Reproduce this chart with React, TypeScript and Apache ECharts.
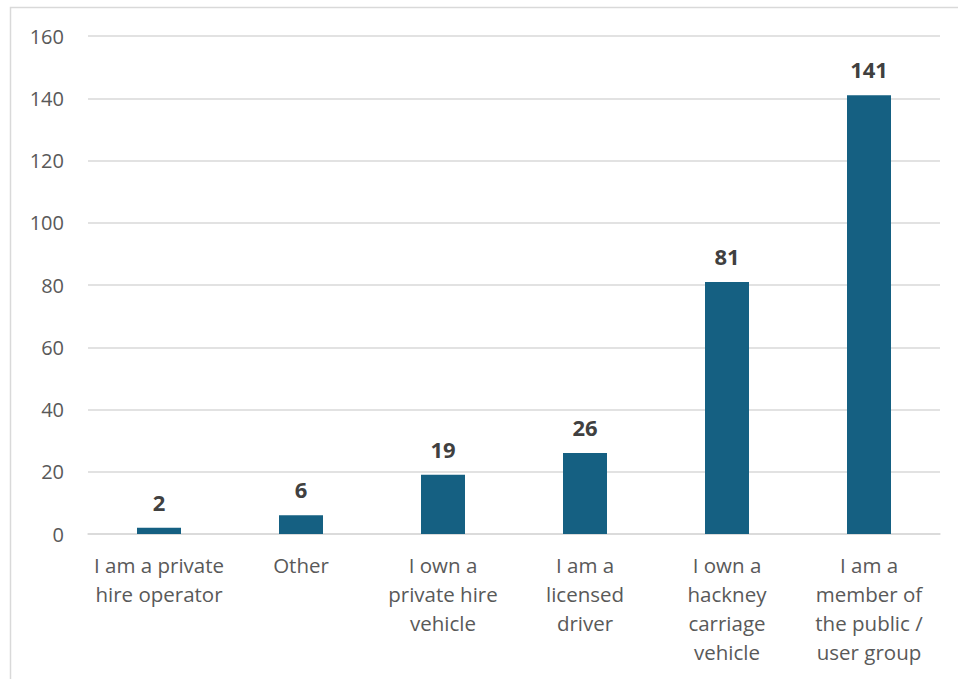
import React, { useEffect, useRef } from "react";
import * as echarts from "echarts";

const categories = [
  "I am a private\nhire operator",
  "Other",
  "I own a\nprivate hire\nvehicle",
  "I am a\nlicensed\ndriver",
  "I own a\nhackney\ncarriage\nvehicle",
  "I am a\nmember of\nthe public /\nuser group",
];
const values = [2, 6, 19, 26, 81, 141];

export default function App() {
  const ref = useRef<HTMLDivElement>(null);
  useEffect(() => {
    const chart = echarts.init(ref.current!, null, { renderer: "svg" });
    chart.setOption({
      animation: false,
      backgroundColor: "#ffffff",
      graphic: [
        {
          type: "rect",
          shape: { x: 10.5, y: 7.5, width: 1000, height: 1000 },
          style: { fill: "none", stroke: "#d9d9d9", lineWidth: 1.5 },
          silent: true,
          z: -1,
        },
      ],
      grid: { left: 88, right: 18, top: 36, bottom: 145, containLabel: false },
      xAxis: {
        type: "category",
        data: categories,
        axisLine: { show: true, lineStyle: { color: "#d9d9d9", width: 1.5 } },
        axisTick: { show: false },
        axisLabel: {
          interval: 0,
          color: "#595959",
          fontSize: 20.5,
          fontFamily: "Open Sans",
          lineHeight: 29,
          margin: 16,
          align: "center",
        },
      },
      yAxis: {
        type: "value",
        min: 0,
        max: 160,
        interval: 20,
        axisLine: { show: false },
        axisTick: { show: false },
        splitLine: { lineStyle: { color: "#d9d9d9", width: 1.5 } },
        axisLabel: {
          color: "#595959",
          fontSize: 20,
          fontFamily: "Open Sans",
          margin: 24,
        },
      },
      series: [
        {
          type: "bar",
          data: values,
          barWidth: 44,
          itemStyle: { color: "#156082" },
          label: {
            show: true,
            position: "top",
            distance: 15,
            color: "#404040",
            fontSize: 22,
            fontWeight: "bold",
            fontFamily: "Open Sans",
          },
        },
      ],
    });
    return () => chart.dispose();
  }, []);
  return (
    <div
      ref={ref}
      style={{ position: "absolute", left: 0, top: 0, width: 958, height: 679 }}
    />
  );
}
